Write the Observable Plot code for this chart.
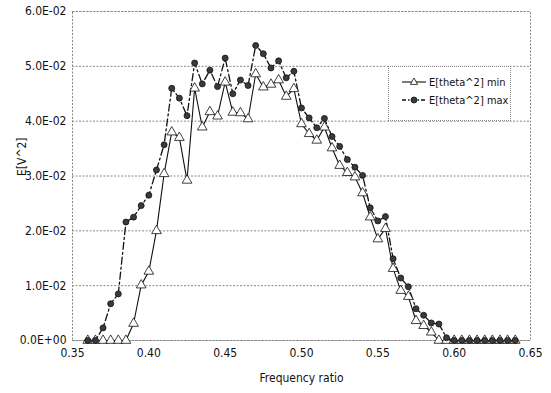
<!DOCTYPE html>
<html>
<head>
<meta charset="utf-8">
<script src="https://cdn.jsdelivr.net/npm/d3@7"></script>
<script src="https://cdn.jsdelivr.net/npm/@observablehq/plot@0.6"></script>
<style>
  html, body { margin: 0; padding: 0; background: #fff; }
  #wrap { position: relative; width: 551px; height: 393px; font-family: "Liberation Sans Narrow", "DejaVu Sans Condensed", "Liberation Sans", sans-serif; }
  #legend { position: absolute; left: 388px; top: 66px; width: 123px; height: 55px; border: 1px dotted #888; background: #fff; box-sizing: border-box; }
</style>
</head>
<body>
<div id="wrap"></div>
<script>
const freq = [0.36,0.365,0.37,0.375,0.38,0.385,0.39,0.395,0.40,0.405,0.41,0.415,0.42,0.425,0.43,0.435,0.44,0.445,0.45,0.455,0.46,0.465,0.47,0.475,0.48,0.485,0.49,0.495,0.50,0.505,0.51,0.515,0.52,0.525,0.53,0.535,0.54,0.545,0.55,0.555,0.56,0.565,0.57,0.575,0.58,0.585,0.59,0.595,0.60,0.605,0.61,0.615,0.62,0.625,0.63,0.635,0.64];
const minVals = [0,0,0,0,0,0,0.0031,0.0101,0.0126,0.0200,0.0304,0.0380,0.0370,0.0292,0.0460,0.0389,0.0417,0.0409,0.0471,0.0416,0.0415,0.0404,0.0486,0.0462,0.0467,0.0475,0.0445,0.0459,0.0395,0.0377,0.0365,0.0389,0.0351,0.0319,0.0306,0.0298,0.0269,0.0225,0.0185,0.0204,0.0131,0.0091,0.0080,0.0036,0.0027,0.0015,0,0,0,0,0,0,0,0,0,0,0];
const maxVals = [0,0,0.0023,0.0067,0.0085,0.0216,0.0225,0.0246,0.0265,0.0311,0.0357,0.0460,0.0442,0.0410,0.0506,0.0468,0.0493,0.0463,0.0515,0.0450,0.0475,0.0465,0.0538,0.0523,0.0497,0.0510,0.0479,0.0491,0.0424,0.0406,0.0388,0.0405,0.0372,0.0354,0.0330,0.0316,0.0301,0.0242,0.0218,0.0226,0.0149,0.0114,0.0098,0.0058,0.0046,0.0032,0.0030,0.0005,0,0,0,0,0,0,0,0,0];
const seriesNames = ["E[theta^2] min", "E[theta^2] max"];
const xTicks = [0.35,0.40,0.45,0.50,0.55,0.60,0.65];
const xTickLabels = ["0.35","0.40","0.45","0.50","0.55","0.60","0.65"];
const yTicks = [0,0.01,0.02,0.03,0.04,0.05,0.06];
const yTickLabels = ["0.0E+00","1.0E-02","2.0E-02","3.0E-02","4.0E-02","5.0E-02","6.0E-02"];
const xLabel = "Frequency ratio";
const yLabel = "E[V^2]";

const minData = freq.map((f, i) => ({f, v: minVals[i]}));
const maxData = freq.map((f, i) => ({f, v: maxVals[i]}));

const chart = Plot.plot({
  width: 551,
  height: 393,
  marginLeft: 72,
  marginRight: 21,
  marginTop: 11,
  marginBottom: 53,
  style: { fontFamily: '"Liberation Sans Narrow", "DejaVu Sans Condensed", "Liberation Sans", sans-serif', fontSize: "12px", color: "#111", background: "#fff" },
  x: { domain: [0.35, 0.65], ticks: xTicks, tickFormat: (d) => xTickLabels[xTicks.findIndex(t => Math.abs(t - d) < 1e-9)], label: null },
  y: { domain: [0, 0.06], ticks: yTicks, tickFormat: (d) => yTickLabels[yTicks.findIndex(t => Math.abs(t - d) < 1e-9)], label: null },
  marks: [
    Plot.ruleY(yTicks, { stroke: "#888", strokeDasharray: "2,1.5", strokeWidth: 1 }),
    Plot.frame({ stroke: "#888", strokeDasharray: "2,1.5" }),
    Plot.axisY({ ticks: yTicks, tickSize: 0, tickPadding: 6, tickFormat: (d) => yTickLabels[yTicks.findIndex(t => Math.abs(t - d) < 1e-9)], label: null, fontSize: 12 }),
    Plot.axisX({ ticks: xTicks, tickSize: 0, tickPadding: 8, tickFormat: (d) => xTickLabels[xTicks.findIndex(t => Math.abs(t - d) < 1e-9)], label: null, fontSize: 12 }),
    Plot.text([xLabel], { frameAnchor: "bottom", dy: 41, text: d => d, fontSize: 12 }),
    Plot.text([yLabel], { frameAnchor: "left", dx: -50, rotate: -90, text: d => d, fontSize: 12 }),
    Plot.line(maxData, { x: "f", y: "v", stroke: "#111", strokeWidth: 1.3, strokeDasharray: "7,3,2,3" }),
    Plot.line(minData, { x: "f", y: "v", stroke: "#111", strokeWidth: 1.1 }),
    Plot.dot(minData, { x: "f", y: "v", symbol: "triangle", r: 3.6, fill: "#fff", stroke: "#111", strokeWidth: 0.8 }),
    Plot.dot(maxData, { x: "f", y: "v", symbol: "circle", r: 3, fill: "#3a3a3a", stroke: "#111", strokeWidth: 0.8 })
  ]
});

const wrap = document.getElementById("wrap");
wrap.appendChild(chart);

// legend overlay
const legend = document.createElement("div");
legend.id = "legend";
const ns = "http://www.w3.org/2000/svg";
const lsvg = document.createElementNS(ns, "svg");
lsvg.setAttribute("width", "121");
lsvg.setAttribute("height", "53");
lsvg.style.display = "block";
const rows = [
  { y: 15, dash: null, marker: "tri" },
  { y: 33, dash: "4,2,1.5,2", marker: "circ" }
];
rows.forEach((r, i) => {
  const ln = document.createElementNS(ns, "line");
  ln.setAttribute("x1", 13); ln.setAttribute("x2", 37);
  ln.setAttribute("y1", r.y); ln.setAttribute("y2", r.y);
  ln.setAttribute("stroke", "#111"); ln.setAttribute("stroke-width", i ? 1.3 : 1.1);
  if (r.dash) ln.setAttribute("stroke-dasharray", r.dash);
  lsvg.appendChild(ln);
  if (r.marker === "tri") {
    const p = document.createElementNS(ns, "path");
    const cx = 25, cy = r.y, s = 4;
    p.setAttribute("d", `M${cx},${cy - s}L${cx + s * 0.9},${cy + s * 0.6}L${cx - s * 0.9},${cy + s * 0.6}Z`);
    p.setAttribute("fill", "#fff"); p.setAttribute("stroke", "#111"); p.setAttribute("stroke-width", 0.8);
    lsvg.appendChild(p);
  } else {
    const c = document.createElementNS(ns, "circle");
    c.setAttribute("cx", 25); c.setAttribute("cy", r.y); c.setAttribute("r", 3);
    c.setAttribute("fill", "#3a3a3a"); c.setAttribute("stroke", "#111"); c.setAttribute("stroke-width", 0.8);
    lsvg.appendChild(c);
  }
  const t = document.createElementNS(ns, "text");
  t.setAttribute("x", 40); t.setAttribute("y", r.y);
  t.setAttribute("dy", "0.35em");
  t.setAttribute("font-size", "11");
  t.setAttribute("fill", "#111");
  t.textContent = seriesNames[i];
  lsvg.appendChild(t);
});
legend.appendChild(lsvg);
wrap.appendChild(legend);
</script>
</body>
</html>
